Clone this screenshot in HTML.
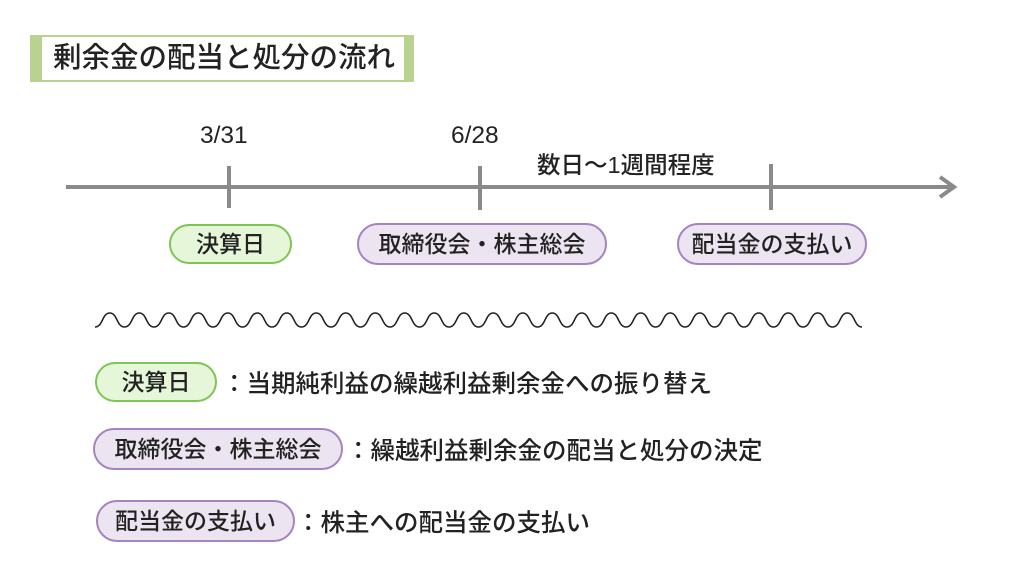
<!DOCTYPE html>
<html><head><meta charset="utf-8"><style>
body{margin:0;width:1024px;height:576px;background:#fff;position:relative;overflow:hidden;font-family:"Liberation Sans","Noto Sans CJK JP",sans-serif;color:#222}
.a{position:absolute}
.pill{position:absolute;box-sizing:border-box;border-radius:22px;display:flex;align-items:center;justify-content:center;font-size:23px;font-weight:500;line-height:1}
.g{background:#e6f6d9;border:2px solid #7fc553}
.p{background:#ece4f1;border:2px solid #a584bd}
.t{position:absolute;font-size:24.5px;font-weight:500;white-space:nowrap;line-height:1}
</style></head><body>
<div class="a" style="left:30px;top:35px;width:384px;height:47px;background:#b8d38f"></div>
<div class="a" style="left:42px;top:37px;width:362px;height:43px;background:#fff"></div>
<div class="t" style="left:53px;top:44px;font-size:28.5px">剰余金の配当と処分の流れ</div>
<svg class="a" style="left:0;top:0" width="1024" height="576">
<line x1="66" y1="187" x2="952" y2="187" stroke="#8a8a8a" stroke-width="4"/>
<polyline points="940,177 954,187 940,197" fill="none" stroke="#8a8a8a" stroke-width="4"/>
<line x1="229" y1="166" x2="229" y2="208" stroke="#8a8a8a" stroke-width="4"/>
<line x1="480" y1="166" x2="480" y2="210" stroke="#8a8a8a" stroke-width="4"/>
<line x1="771" y1="164" x2="771" y2="210" stroke="#8a8a8a" stroke-width="4"/>
<path id="w" fill="none" stroke="#222" stroke-width="1.6" d=""/>
</svg>
<script>
var d="M95,327",p=29.5;for(var i=0;i<26;i++){var x=95+i*p;d+=" C"+(x+8)+",327 "+(x+7)+",313 "+(x+p/2)+",313 C"+(x+p-7)+",313 "+(x+p-8)+",327 "+(x+p)+",327";}
document.getElementById("w").setAttribute("d",d);
</script>
<div class="t" style="left:200px;top:124px">3/31</div>
<div class="t" style="left:451px;top:124px">6/28</div>
<div class="t" style="left:537px;top:154px;font-size:23.5px">数日～1週間程度</div>
<div class="pill g" style="left:169px;top:224px;width:123px;height:40px">決算日</div>
<div class="pill p" style="left:357px;top:223px;width:250px;height:42px">取締役会・株主総会</div>
<div class="pill p" style="left:677px;top:223px;width:190px;height:42px">配当金の支払い</div>
<div class="pill g" style="left:95px;top:362px;width:122px;height:40px">決算日</div>
<div class="t" style="left:222px;top:373px">：当期純利益の繰越利益剰余金への振り替え</div>
<div class="pill p" style="left:93px;top:428px;width:250px;height:42px">取締役会・株主総会</div>
<div class="t" style="left:346px;top:440px">：繰越利益剰余金の配当と処分の決定</div>
<div class="pill p" style="left:96px;top:500px;width:199px;height:42px">配当金の支払い</div>
<div class="t" style="left:296px;top:512px">：株主への配当金の支払い</div>
</body></html>
